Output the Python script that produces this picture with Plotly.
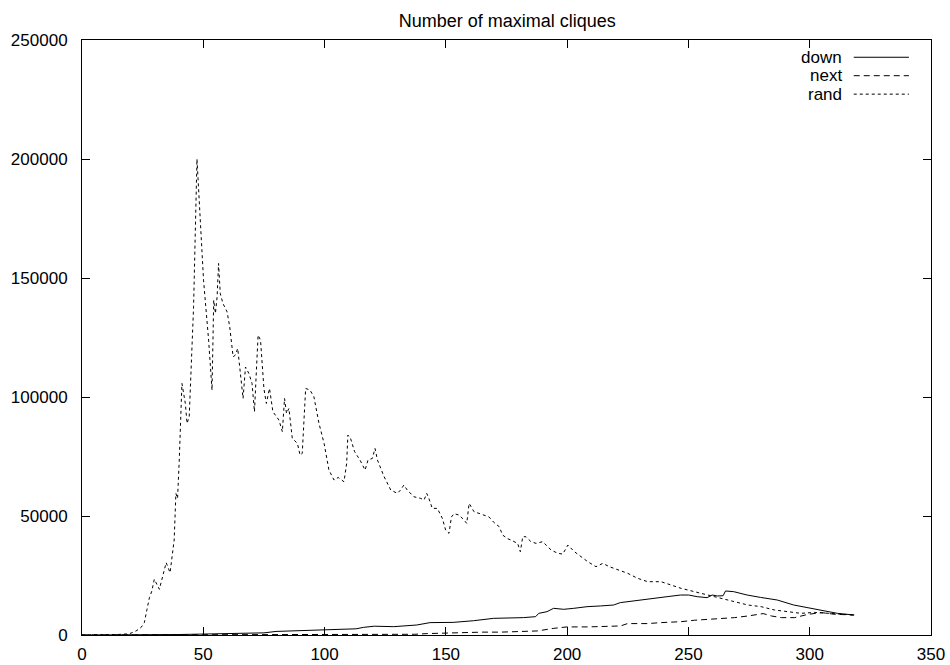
import plotly.graph_objects as go

# ---- data ----
down_x = [0, 15, 20, 40, 50, 60, 75, 80, 90, 101, 113, 116, 120.5, 128.5, 138, 143.5, 153, 161.4,
          169.7, 182, 187, 188.3, 191.7, 194.4, 198.6, 202.7, 208.2, 213.7, 219.2, 221.9, 227.4,
          233, 235.7, 241.2, 246.7, 250.1, 253.6, 257.7, 259.8, 261.9, 264.3, 265.3, 268.7,
          274.2, 279.7, 286.6, 293.4, 300.3, 305.8, 311.4, 318.3]
down_y = [0, 0, 50, 200, 400, 600, 900, 1500, 1900, 2200, 2600, 3200, 3700, 3500, 4200, 5200, 5300, 6000,
          7000, 7300, 7700, 9100, 9800, 11200, 10800, 11200, 11900, 12200, 12600, 13600, 14400,
          15000, 15400, 16100, 16800, 16800, 16100, 15700, 16800, 16400, 16500, 18500, 18200,
          16800, 15800, 14700, 12600, 11200, 10100, 9100, 8400]

next_x = [0, 130, 137, 142.5, 150.5, 165, 172.5, 187.7, 194.5, 200, 208.4, 222, 224.9, 233.2,
          238.7, 247, 252.5, 260.7, 269, 274.6, 280.8, 284.2, 288.3, 293.8, 299.4, 304.9, 310.4, 318.3]
next_y = [0, 0, 300, 600, 900, 1200, 1200, 1700, 2800, 3400, 3400, 3800, 4800, 4800,
          5200, 5600, 6200, 6600, 7300, 8000, 9000, 8000, 7300, 7300, 8700, 9400, 8700, 8400]

rand_x = [0, 5, 10, 14.7, 19.5, 22.3, 24.3, 25.7, 26.8, 27.8, 28.8, 29.8, 31.9, 33.6, 34.7, 36.3,
          38, 38.7, 39.4, 40.1, 41.2, 42.6, 43.3, 44.2, 46, 47.4, 48.5, 50.1, 52.2, 53.6, 54.3,
          55, 55.7, 56.3, 57, 58.1, 59.8, 60.9, 62.3, 63.2, 64.2, 65.3, 66.4, 67.4, 68.8, 70.1,
          71.1, 71.9, 72.6, 73.6, 75, 76, 77.3, 78.7, 81.2, 82.6, 83.5, 84.3, 85.3, 86.7, 88.8,
          89.9, 90.8, 92.2, 94, 95.6, 97.7, 99.8, 101.8, 103.9, 105.6, 108, 109.1, 109.6, 110.7,
          112.4, 114.6, 116.7, 117.9, 119.7, 120.8, 121.8, 124.5, 127.3, 130, 131.3, 132.7, 134.1,
          136.8, 139.6, 141, 142.1, 143, 144.4, 146.5, 148.6, 149.9, 151.3, 152.3, 153.4, 155.4,
          157.5, 158.6, 159.6, 161.6, 163.7, 165.8, 167.8, 169.9, 172, 173.4, 175.4, 176.8, 179.6,
          180.7, 181.7, 183, 185.1, 187.2, 189.9, 193.4, 196.2, 198.2, 200.3, 203, 205.8, 208.5,
          211.9, 214.7, 217.4, 220.9, 225, 229.1, 233.2, 238.7, 242.8, 247, 252.5, 258, 263.5,
          269, 274.5, 280, 285.5, 291, 296.4, 301.9, 307.3, 312.9, 318.3]
rand_y = [0, 0, 100, 200, 500, 1700, 3100, 5200, 10800, 15700, 18500, 23400, 19200, 25500, 30400, 26200,
          39900, 59500, 57400, 73500, 105700, 97300, 88900, 91700, 137900, 200000, 179800, 149100, 123900, 102900, 140700,
          135100, 142100, 156100, 143500, 139300, 135800, 129500, 116900, 117600, 120400, 109900, 99400, 112600, 109900, 105700,
          93800, 111300, 126000, 123900, 103500, 97300, 103600, 93800, 90300, 85400, 99400, 93100, 95200, 82600, 80500,
          75600, 76300, 103600, 102900, 100100, 88900, 80500, 69300, 65100, 66200, 64400, 72100, 84000, 82600,
          77000, 73500, 69300, 73500, 74200, 78400, 73500, 66600, 60900, 59500, 60900, 63000, 60900,
          58100, 57400, 56700, 59500, 57400, 53200, 53200, 48900, 44100, 42700, 49600, 51000, 50400,
          48300, 46900, 55300, 51800, 51100, 50400, 49600, 47200, 45500, 42000, 40500, 39900, 38500,
          35000, 41300, 41300, 39200, 38500, 39200, 35700, 34300, 34000, 37800, 35000, 32900, 30800,
          28700, 30100, 28700, 27300, 25900, 23800, 22400, 22400, 21000, 19600, 18200, 16800, 15400,
          14000, 12600, 11900, 10500, 9800, 9100, 9500, 9100, 8800, 8400]

series_names = ["down", "next", "rand"]
x_ticks = [0, 50, 100, 150, 200, 250, 300, 350]
y_ticks = [0, 50000, 100000, 150000, 200000, 250000]

FONT = "Liberation Sans, Arial, Helvetica, sans-serif"
dashes = {"down": "solid", "next": "6px,4px", "rand": "3px,3px"}

fig = go.Figure()
for name, xs, ys in [("down", down_x, down_y), ("next", next_x, next_y), ("rand", rand_x, rand_y)]:
    fig.add_trace(go.Scatter(x=xs, y=ys, mode="lines", name=name, showlegend=False,
                             line=dict(color="black", width=1, dash=dashes[name])))

# gnuplot-style key: right-aligned text followed by a line sample
key_rows = [0.971, 0.940, 0.909]
for name, yp in zip(series_names, key_rows):
    fig.add_annotation(text=name, xref="paper", yref="paper", x=0.8974, y=yp,
                       xanchor="right", yanchor="middle", showarrow=False,
                       font=dict(family=FONT, size=17, color="black"))
    fig.add_shape(type="line", xref="paper", yref="paper", x0=0.909, x1=0.974, y0=yp, y1=yp,
                  line=dict(color="black", width=1, dash=dashes[name]))

axis_common = dict(showline=True, linecolor="black", linewidth=1, mirror="ticks",
                   ticks="inside", ticklen=8, tickcolor="black", tickwidth=1,
                   showgrid=False, zeroline=False, automargin=False,
                   tickfont=dict(family=FONT, size=17, color="black"))

fig.update_xaxes(range=[0, 350], tickvals=x_ticks, ticktext=[str(v) for v in x_ticks],
                 ticklabelstandoff=4, **axis_common)
fig.update_yaxes(range=[0, 250000], tickvals=y_ticks, ticktext=[str(v) for v in y_ticks],
                 ticklabelstandoff=10, **axis_common)

fig.update_layout(
    width=950, height=665,
    margin=dict(l=82, r=19, t=40, b=30, autoexpand=False),
    paper_bgcolor="white", plot_bgcolor="white",
    title=dict(text="Number of maximal cliques", x=0.534, xanchor="center",
               y=1 - 21 / 665, yanchor="middle", yref="container",
               font=dict(family=FONT, size=18, color="black")),
    font=dict(family=FONT, size=18, color="black"),
)

fig.write_html("out.html")
